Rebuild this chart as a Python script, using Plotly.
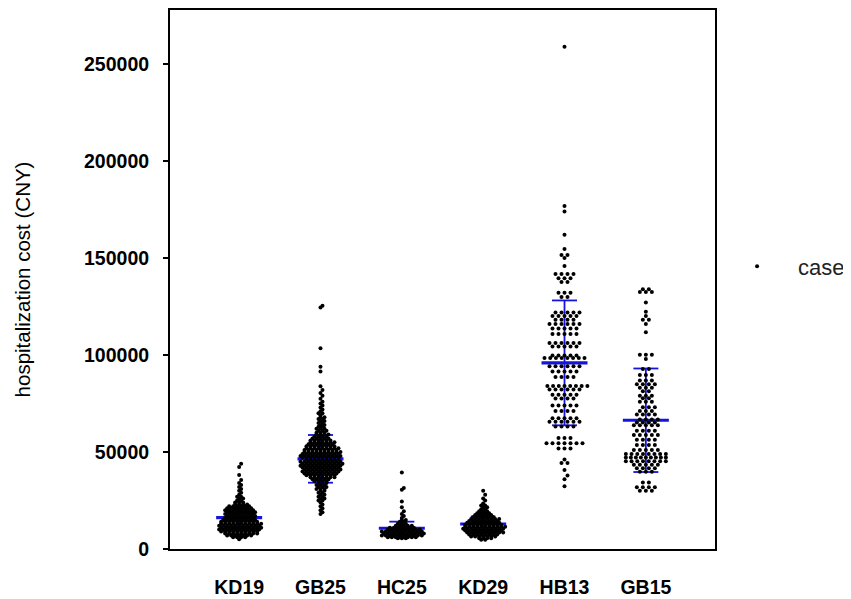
import plotly.graph_objects as go

categories = ["KD19", "GB25", "HC25", "KD29", "HB13", "GB15"]
y_ticks = [0, 50000, 100000, 150000, 200000, 250000]

# mean and SD of each group (CNY)
means = [16200, 46500, 10700, 12900, 96000, 66400]
sds = [5000, 12300, 3400, 3800, 32200, 26700]

# each group: cost level (CNY) of a row in the swarm and how many cases sit on it
kd19_levels = [44000, 42300, 38200, 35600, 34000, 33000, 32000, 31000, 30000, 29000,
               28000, 27000, 26000, 25000, 24000, 23000, 22000, 21000, 20000, 19000,
               18000, 17000, 16000, 15000, 14000, 13000, 12000, 11000, 10000, 9000,
               8000, 7000, 6000, 5000]
kd19_counts = [1, 1, 1, 1, 1, 1, 1, 1, 1, 1,
               1, 2, 2, 2, 3, 4, 6, 7, 8, 8,
               8, 8, 8, 9, 10, 11, 11, 11, 11, 10,
               9, 7, 4, 1]

gb25_levels = [125500, 124500, 103500, 94000, 91500, 84000, 82000, 80500, 79000, 77500,
               76000, 75000, 74000, 73000, 72000, 71000, 70000, 69000, 68000, 67000,
               66000, 65000, 64000, 63000, 62000, 61000, 60000, 59000, 58000, 57000,
               56000, 55000, 54000, 53000, 52000, 51000, 50000, 49000, 48000, 47000,
               46000, 45000, 44000, 43000, 42000, 41000, 40000, 39000, 38000, 37000,
               36000, 35000, 34000, 33000, 32000, 31000, 30000, 29000, 28000, 27000,
               26000, 25000, 24000, 23000, 22000, 21000, 20000, 19000, 18000]
gb25_counts = [1, 1, 1, 1, 1, 1, 1, 1, 1, 1,
               1, 1, 1, 1, 1, 1, 2, 1, 2, 2,
               2, 2, 2, 2, 3, 3, 3, 4, 4, 5,
               6, 7, 7, 8, 9, 9, 10, 10, 11, 10,
               9, 11, 11, 11, 10, 10, 10, 9, 8, 7,
               5, 4, 3, 3, 3, 3, 2, 2, 2, 2,
               2, 2, 1, 1, 1, 1, 1, 1, 1]

hc25_levels = [39500, 31500, 30500, 24500, 21500, 19500, 18000, 17000, 16000, 15000,
               14000, 13000, 12000, 11000, 10000, 9000, 8000, 7000, 6000, 5500]
hc25_counts = [1, 1, 1, 1, 1, 1, 1, 1, 1, 2,
               2, 3, 5, 7, 9, 11, 11, 11, 8, 3]

kd29_levels = [30000, 28000, 26000, 25000, 23500, 22500, 21500, 20500, 19500, 18500,
               17500, 16500, 15500, 14500, 13500, 12500, 11500, 10500, 9500, 8500,
               7500, 6500, 5500, 4800]
kd29_counts = [1, 1, 1, 1, 1, 2, 2, 2, 3, 4,
               5, 6, 8, 8, 9, 10, 11, 11, 10, 10,
               8, 7, 4, 2]

hb13_levels = [259000, 176900, 174100, 162100, 154700, 151600, 150100, 146000, 141800, 139600,
               137700, 132200, 130000, 122000, 120200, 118300, 116100, 113700, 110900, 106300,
               104400, 99800, 98500, 94300, 91500, 88700, 84100, 82300, 79500, 77600,
               74000, 71200, 67500, 65600, 63200, 57300, 54500, 51800, 46200, 44400,
               40700, 37900, 36000, 32400]
hb13_counts = [1, 1, 1, 1, 1, 2, 1, 1, 4, 3,
               2, 3, 2, 5, 5, 4, 6, 5, 5, 6,
               5, 5, 8, 6, 5, 4, 8, 6, 5, 4,
               5, 4, 5, 6, 4, 3, 7, 3, 1, 2,
               1, 1, 1, 1]

gb15_levels = [134000, 132500, 127200, 122400, 120200, 118300, 116100, 111800, 100200, 98000,
               92800, 89700, 86900, 85000, 83200, 81300, 79000, 77700, 75900, 73100,
               71200, 69400, 66800, 65200, 63800, 61000, 58800, 56400, 53700, 51000,
               49000, 47200, 45300, 43500, 41600, 39800, 34300, 31800, 30000]
gb15_counts = [2, 3, 1, 1, 1, 2, 1, 1, 3, 1,
               2, 3, 3, 4, 3, 2, 3, 2, 3, 3,
               3, 4, 4, 4, 5, 4, 5, 4, 4, 5,
               8, 9, 8, 5, 4, 3, 2, 4, 3]

groups = [
    (kd19_levels, kd19_counts),
    (gb25_levels, gb25_counts),
    (hc25_levels, hc25_counts),
    (kd29_levels, kd29_counts),
    (hb13_levels, hb13_counts),
    (gb15_levels, gb15_counts),
]

# the page body has an 8px margin, so the figure is 8px smaller than the window
FIG_W, FIG_H = 843, 591
MARGIN = dict(l=162, r=136, t=2, b=50, autoexpand=False)
X_RANGE = [-0.85, 5.85]
Y_RANGE = [0, 278000]
BLUE = "#1414dc"
FONT = "Liberation Sans, Arial, sans-serif"

plot_w = FIG_W - MARGIN["l"] - MARGIN["r"]
plot_h = FIG_H - MARGIN["t"] - MARGIN["b"]
px_x = plot_w / (X_RANGE[1] - X_RANGE[0])  # pixels per category step
px_y = plot_h / (Y_RANGE[1] - Y_RANGE[0])  # pixels per CNY

DOT = 4        # marker diameter, px
MAX_W = 44     # widest a swarm row may get, px
GAP = [4, 4, 4, 4, 6, 6]  # spacing between dots in a row, px
MEAN_HALF = 23 / px_x
CAP_HALF = 12.5 / px_x


def swarm(levels, counts, gap_px):
    """Spread each row of equal values sideways, Prism style."""
    offsets, values = [], []
    prev_level, prev_n, prev_shift = None, 0, 0.0
    for level, n in sorted(zip(levels, counts)):
        gap = gap_px if n < 2 else min(gap_px, (MAX_W - DOT) / (n - 1))
        shift = 0.0
        if prev_level is not None and (level - prev_level) * px_y < DOT and n % 2 == prev_n % 2:
            shift = 0.0 if prev_shift else gap / 2
        for k in range(n):
            offsets.append(((k - (n - 1) / 2) * gap + shift) / px_x)
            values.append(level)
        prev_level, prev_n, prev_shift = level, n, shift
    return offsets, values


pts_x, pts_y = [], []
for i, (levels, counts) in enumerate(groups):
    offs, vals = swarm(levels, counts, GAP[i])
    pts_x += [i + o for o in offs]
    pts_y += vals

mean_x, mean_y, sd_x, sd_y = [], [], [], []
for i, (m, s) in enumerate(zip(means, sds)):
    mean_x += [i - MEAN_HALF, i + MEAN_HALF, None]
    mean_y += [m, m, None]
    sd_x += [i, i, None, i - CAP_HALF, i + CAP_HALF, None, i - CAP_HALF, i + CAP_HALF, None]
    sd_y += [m - s, m + s, None, m + s, m + s, None, m - s, m - s, None]

fig = go.Figure()
fig.add_trace(go.Scatter(x=sd_x, y=sd_y, mode="lines", line=dict(color=BLUE, width=1.8),
                         showlegend=False, hoverinfo="skip"))
fig.add_trace(go.Scatter(x=mean_x, y=mean_y, mode="lines", line=dict(color=BLUE, width=3.2),
                         showlegend=False, hoverinfo="skip"))
fig.add_trace(go.Scatter(x=pts_x, y=pts_y, mode="markers", name="case",
                         marker=dict(color="black", size=DOT)))

fig.update_layout(
    width=FIG_W, height=FIG_H, margin=MARGIN,
    plot_bgcolor="white", paper_bgcolor="white",
    font=dict(family=FONT, color="black"),
    legend=dict(x=1.002, y=0.524, xanchor="left", yanchor="middle", itemwidth=72,
                font=dict(size=22, color="#222"), bgcolor="rgba(0,0,0,0)"),
    xaxis=dict(range=X_RANGE, tickvals=list(range(len(categories))), ticktext=categories,
               showline=True, linecolor="black", linewidth=2, mirror=True, ticks="",
               showgrid=False, zeroline=False, automargin=False, ticklabelstandoff=20,
               tickfont=dict(size=19.5, weight="bold", color="black")),
    yaxis=dict(range=Y_RANGE, tickvals=y_ticks, tickformat="d",
               ticks="outside", ticklen=5, tickwidth=1.5, tickcolor="black",
               showline=True, linecolor="black", linewidth=2, mirror=True,
               showgrid=False, zeroline=False, automargin=False, ticklabelstandoff=10,
               tickfont=dict(size=19.5, weight="bold", color="black"),
               title=dict(text="hospitalization cost (CNY)", standoff=48,
                          font=dict(size=20.5, color="black"))),
)

fig.write_html("out.html")
